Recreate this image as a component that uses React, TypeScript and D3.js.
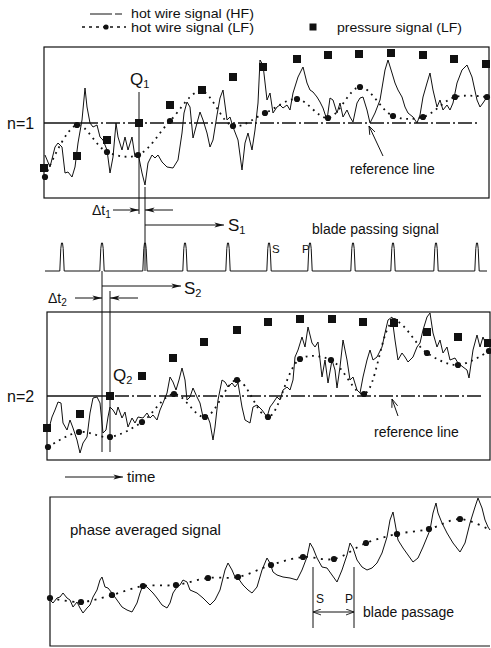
import React from 'react';
import * as d3 from 'd3';

type Pt = [number, number];

// ---------- data (time in samples, signal in arbitrary units) ----------
const P1_HF: Pt[] = [[1,43],[6,31],[11,51],[14,55],[18,51],[21,25],[24,26],[28,21],[31,31],[34,55],[38,78],[41,110],[43,91],[46,75],[49,71],[53,73],[56,61],[59,58],[63,48],[66,25],[69,41],[72,75],[74,61],[78,48],[81,61],[84,48],[88,61],[91,41],[94,45],[98,25],[101,13],[104,35],[108,43],[111,40],[114,43],[118,36],[123,31],[129,30],[134,38],[138,65],[140,85],[143,96],[146,91],[149,60],[153,75],[156,86],[159,78],[163,65],[166,51],[169,58],[173,83],[176,100],[179,108],[183,78],[186,81],[189,71],[194,58],[198,28],[201,55],[204,65],[208,48],[211,68],[214,95],[216,138],[219,133],[223,98],[226,105],[229,85],[233,91],[236,93],[239,90],[243,93],[246,88],[249,105],[254,121],[259,131],[263,115],[266,108],[269,106],[273,101],[276,96],[279,90],[283,78],[286,100],[289,98],[293,85],[296,95],[299,81],[303,88],[306,81],[309,76],[313,95],[316,100],[319,101],[323,88],[326,75],[331,85],[336,98],[341,128],[344,138],[348,125],[351,115],[354,108],[358,101],[361,91],[364,85],[369,81],[373,75],[376,83],[379,101],[383,115],[386,125],[389,108],[393,91],[396,98],[399,88],[403,93],[406,88],[409,95],[413,115],[418,128],[423,133],[428,121],[433,98],[436,91],[439,95],[443,101],[445,103]];
const P1_LF: Pt[] = [[1,21],[33,73],[63,46],[94,43],[126,77],[157,107],[189,72],[221,85],[253,99],[284,80],[316,111],[349,82],[379,81],[411,101],[443,101]];
const P1_PRESS: Pt[] = [[0,30],[33,42],[63,58],[95,75],[126,93],[158,108],[189,121],[219,131],[253,139],[284,143],[315,144],[347,145],[379,143],[410,139],[442,134]];
const REF1 = 75;

const P2_HF: Pt[] = [[0,32],[1,28],[5,43],[8,50],[11,58],[14,57],[16,37],[20,30],[23,40],[26,32],[30,20],[33,7],[36,17],[40,23],[43,47],[46,62],[50,63],[53,57],[56,27],[59,30],[61,43],[63,53],[66,50],[69,45],[71,53],[75,42],[78,48],[81,33],[85,42],[88,37],[91,43],[96,42],[100,47],[103,42],[106,45],[110,40],[113,50],[116,57],[120,67],[123,83],[126,78],[129,70],[132,80],[135,92],[138,80],[140,60],[143,63],[146,72],[150,63],[153,57],[156,43],[160,45],[163,37],[166,20],[168,33],[171,60],[175,80],[178,78],[181,73],[185,77],[188,73],[191,77],[195,53],[198,40],[203,37],[206,53],[210,55],[215,50],[220,43],[223,53],[226,57],[230,63],[233,60],[236,70],[240,73],[243,70],[246,80],[248,103],[251,110],[255,123],[258,113],[261,133],[265,117],[268,113],[271,118],[275,83],[278,100],[281,77],[285,100],[288,90],[290,72],[293,93],[296,120],[300,100],[303,80],[306,83],[310,70],[313,67],[316,83],[320,100],[323,110],[326,100],[330,103],[335,113],[338,127],[341,140],[345,143],[348,120],[351,100],[355,107],[358,103],[361,98],[366,103],[370,113],[373,117],[376,130],[380,143],[383,147],[386,127],[390,113],[393,120],[396,107],[400,113],[403,100],[408,102],[411,97],[416,93],[420,90],[422,82],[426,110],[430,125],[433,113],[436,123],[440,113],[443,117]];
const P2_LF: Pt[] = [[1,13],[32,28],[63,23],[95,38],[127,66],[158,43],[190,80],[221,43],[253,101],[284,100],[317,66],[347,139],[380,107],[411,95],[442,109]];
const P2_PRESS: Pt[] = [[0,32],[33,46],[63,64],[95,84],[126,102],[157,118],[190,130],[221,138],[253,141],[285,141],[316,138],[347,137],[380,128],[411,123],[441,117]];
const REF2 = 64;

const P3_HF: Pt[] = [[0,46],[3,43],[7,48],[10,49],[13,53],[17,48],[20,46],[23,39],[27,44],[30,38],[33,33],[37,38],[40,41],[43,49],[47,56],[50,66],[52,69],[55,59],[58,58],[62,53],[67,46],[72,39],[77,36],[82,34],[87,43],[90,53],[93,61],[97,59],[100,56],[103,53],[107,48],[112,41],[117,38],[120,43],[123,53],[127,59],[130,61],[133,66],[137,64],[140,56],[147,53],[153,48],[160,41],[165,46],[170,56],[175,76],[178,83],[182,76],[185,69],[188,68],[193,61],[198,56],[202,53],[207,59],[212,76],[217,88],[220,83],[223,74],[227,71],[233,69],[240,68],[247,66],[252,76],[257,89],[260,103],[263,98],[267,88],[272,79],[277,78],[282,71],[287,64],[292,76],[297,91],[300,103],[303,98],[307,86],[312,79],[317,76],[322,78],[327,83],[332,93],[337,109],[340,126],[343,134],[345,123],[348,106],[353,98],[358,91],[363,84],[368,88],[373,99],[380,116],[383,133],[386,143],[388,133],[392,123],[397,113],[403,103],[410,94],[415,103],[420,123],[425,139],[428,148],[432,138],[435,126],[438,119],[440,116]];
const P3_LF: Pt[] = [[0,48],[31,44],[62,51],[93,60],[126,61],[158,68],[188,69],[221,81],[253,89],[284,87],[316,103],[347,112],[379,117],[410,127],[440,116]];
const P3_PASSAGE: number[] = [263, 304];

const BLADE_T: number[] = [18, 58, 101, 141, 184, 225, 266, 309, 349, 392, 433];
const Q1_T = 95;
const Q2_T = 63;

// ---------- scales ----------
const x1 = d3.scaleLinear().domain([0, 445]).range([44, 489]);
const y1 = d3.scaleLinear().domain([0, 151]).range([198, 47]);
const x2 = d3.scaleLinear().domain([0, 443]).range([47, 490]);
const y2 = d3.scaleLinear().domain([0, 148]).range([460, 312]);
const x3 = d3.scaleLinear().domain([0, 440]).range([50, 490]);
const y3 = d3.scaleLinear().domain([0, 149]).range([646, 497]);
const xb = d3.scaleLinear().domain([0, 445]).range([44, 489]);
const yb = d3.scaleLinear().domain([0, 1]).range([271, 243]);

const FONT = "'Liberation Sans', Arial, Helvetica, sans-serif";
const INK = '#111';

type Scale = d3.ScaleLinear<number, number>;

function Panel({ hf, lf, pr, xs, ys, refLevel, refSolidEnd, refEnd, box }: {
  hf: Pt[]; lf: Pt[]; pr?: Pt[]; xs: Scale; ys: Scale; refLevel?: number;
  refSolidEnd?: number; refEnd?: number; box: 'full' | 'open';
}) {
  const hfLine = d3.line<Pt>().x(d => xs(d[0])).y(d => ys(d[1]));
  const lfLine = d3.line<Pt>().x(d => xs(d[0])).y(d => ys(d[1])).curve(d3.curveCatmullRom.alpha(0.5));
  const [xa, xb2] = xs.range();
  const [yb0, yt] = ys.range();
  const dots = pr ? lf : lf.slice(0, lf.length - 1);
  return (
    <g>
      {box === 'full' ? (
        <rect x={xa} y={yt} width={xb2 - xa} height={yb0 - yt} fill="none" stroke={INK} strokeWidth={1.2} />
      ) : (
        <path d={`M${xb2 + 1},${yt}H${xa}V${yb0}H${xb2}`} fill="none" stroke={INK} strokeWidth={1.2} />
      )}
      {refLevel !== undefined && (
        <g stroke={INK} strokeWidth={1.3}>
          <line x1={xa} x2={xs(refSolidEnd!)} y1={ys(refLevel)} y2={ys(refLevel)} />
          <line x1={xs(refSolidEnd!)} x2={xs(refEnd!)} y1={ys(refLevel)} y2={ys(refLevel)} strokeDasharray="14 3 2 3" />
        </g>
      )}
      <path d={hfLine(hf) || ''} fill="none" stroke={INK} strokeWidth={1} strokeLinejoin="round" />
      <path d={lfLine(lf) || ''} fill="none" stroke={INK} strokeWidth={1.8} strokeDasharray={pr ? '1.8 4.6' : '2 5.5'} />
      {pr && pr.map((d, i) => (
        <rect key={'s' + i} x={xs(d[0]) - 4} y={ys(d[1]) - 4} width={8} height={8} fill={INK} />
      ))}
      {dots.map((d, i) => (
        <circle key={'c' + i} cx={xs(d[0])} cy={ys(d[1])} r={3.1} fill={INK} />
      ))}
    </g>
  );
}

export default function App() {
  // blade passing signal trace
  const bladePts: Pt[] = [[1, 0]];
  BLADE_T.forEach(t => {
    bladePts.push([t - 2.2, 0], [t - 1.2, 0.8], [t - 0.5, 1], [t + 0.5, 1], [t + 1.2, 0.8], [t + 2.2, 0]);
  });
  bladePts.push([443, 0]);
  const bladeLine = d3.line<Pt>().x(d => xb(d[0])).y(d => yb(d[1]));

  const q1x = x1(Q1_T);
  const p3x = xb(BLADE_T[2]);
  const p2x = xb(BLADE_T[1]);
  const q2x = x2(Q2_T);
  const sx = x3(P3_PASSAGE[0]);
  const px = x3(P3_PASSAGE[1]);

  return (
    <svg width={491} height={648} viewBox="0 0 491 648"
      style={{ position: 'absolute', left: 0, top: 0, background: '#fff' }}
      fontFamily={FONT} fill={INK}>
      <defs>
        <marker id="arr" viewBox="0 0 10 6" refX="9.6" refY="3" markerWidth="10" markerHeight="6"
          markerUnits="userSpaceOnUse" orient="auto-start-reverse">
          <path d="M0,0.4 L10,3 L0,5.6 L2.5,3 Z" fill={INK} />
        </marker>
        <marker id="arrOpen" viewBox="0 0 10 8" refX="9.5" refY="4" markerWidth="9" markerHeight="7"
          markerUnits="userSpaceOnUse" orient="auto-start-reverse">
          <path d="M0,0.5 L9.5,4 L0,7.5" fill="none" stroke={INK} strokeWidth={1} />
        </marker>
      </defs>

      {/* legend */}
      <g stroke={INK}>
        <line x1={90} x2={112} y1={14} y2={14} strokeWidth={1} />
        <line x1={115} x2={122} y1={14} y2={14} strokeWidth={1} />
        <line x1={82} x2={126} y1={27} y2={27} strokeWidth={1.6} strokeDasharray="3 4" />
      </g>
      <circle cx={106} cy={27} r={2.6} />
      <rect x={309.5} y={23.5} width={7} height={7} />
      <text x={131} y={18} fontSize={13.5} textLength={123} lengthAdjust="spacingAndGlyphs">hot wire signal (HF)</text>
      <text x={131} y={31.5} fontSize={13.5} textLength={123} lengthAdjust="spacingAndGlyphs">hot wire signal (LF)</text>
      <text x={337} y={31.5} fontSize={13.5} textLength={125} lengthAdjust="spacingAndGlyphs">pressure signal (LF)</text>

      {/* panel 1 */}
      <Panel hf={P1_HF} lf={P1_LF} pr={P1_PRESS} xs={x1} ys={y1} refLevel={REF1} refSolidEnd={40} refEnd={436} box="full" />
      <text x={7} y={129} fontSize={16}>n=1</text>
      <text x={130} y={85} fontSize={17}>Q<tspan fontSize={11} dy={3}>1</tspan></text>
      <line x1={q1x} x2={q1x} y1={92} y2={214} stroke={INK} strokeWidth={1} />
      <text x={350} y={174} fontSize={14}>reference line</text>
      <line x1={383} y1={156} x2={369} y2={126} stroke={INK} strokeWidth={1} markerEnd="url(#arrOpen)" />

      {/* Δt1 / S1 */}
      <text x={92} y={215} fontSize={14}>Δt<tspan fontSize={10} dy={3}>1</tspan></text>
      <line x1={113} x2={q1x} y1={210} y2={210} stroke={INK} strokeWidth={1} markerEnd="url(#arr)" />
      <line x1={173} x2={p3x} y1={210} y2={210} stroke={INK} strokeWidth={1} markerEnd="url(#arr)" />
      <line x1={p3x} x2={p3x} y1={187} y2={271} stroke={INK} strokeWidth={1} />
      <line x1={p3x} x2={224} y1={225} y2={225} stroke={INK} strokeWidth={1} markerEnd="url(#arr)" />
      <text x={228} y={231} fontSize={17}>S<tspan fontSize={11} dy={3}>1</tspan></text>

      {/* blade passing signal */}
      <path d={bladeLine(bladePts) || ''} fill="none" stroke={INK} strokeWidth={1} />
      <text x={312} y={234} fontSize={14}>blade passing signal</text>
      <text x={272} y={253} fontSize={11.5}>S</text>
      <text x={302} y={253} fontSize={11.5}>P</text>

      {/* Δt2 / S2 */}
      <line x1={p2x} x2={p2x} y1={271} y2={452} stroke={INK} strokeWidth={1} />
      <line x1={p2x} x2={181} y1={286} y2={286} stroke={INK} strokeWidth={1} markerEnd="url(#arr)" />
      <text x={184} y={294} fontSize={17}>S<tspan fontSize={11} dy={3}>2</tspan></text>
      <text x={48} y={303} fontSize={14}>Δt<tspan fontSize={10} dy={3}>2</tspan></text>
      <line x1={75} x2={p2x} y1={298} y2={298} stroke={INK} strokeWidth={1} markerEnd="url(#arr)" />
      <line x1={138} x2={q2x} y1={298} y2={298} stroke={INK} strokeWidth={1} markerEnd="url(#arr)" />
      <line x1={q2x} x2={q2x} y1={291} y2={452} stroke={INK} strokeWidth={1} />

      {/* panel 2 */}
      <Panel hf={P2_HF} lf={P2_LF} pr={P2_PRESS} xs={x2} ys={y2} refLevel={REF2} refSolidEnd={46} refEnd={436} box="full" />
      <text x={7} y={402} fontSize={16}>n=2</text>
      <text x={113} y={381} fontSize={17}>Q<tspan fontSize={11} dy={3}>2</tspan></text>
      <text x={374} y={437} fontSize={14}>reference line</text>
      <line x1={398} y1={416} x2={392} y2={399} stroke={INK} strokeWidth={1} markerEnd="url(#arrOpen)" />

      {/* time arrow */}
      <line x1={65} x2={123} y1={477} y2={477} stroke={INK} strokeWidth={1} markerEnd="url(#arr)" />
      <text x={127} y={482} fontSize={15}>time</text>

      {/* panel 3 */}
      <Panel hf={P3_HF} lf={P3_LF} xs={x3} ys={y3} box="open" />
      <text x={70} y={535} fontSize={15}>phase averaged signal</text>
      <line x1={sx} x2={sx} y1={567} y2={628} stroke={INK} strokeWidth={1} />
      <line x1={px} x2={px} y1={567} y2={628} stroke={INK} strokeWidth={1} />
      <text x={316} y={603} fontSize={12}>S</text>
      <text x={345} y={603} fontSize={12}>P</text>
      <line x1={sx} x2={px} y1={612} y2={612} stroke={INK} strokeWidth={1}
        markerStart="url(#arrOpen)" markerEnd="url(#arrOpen)" />
      <text x={363} y={617} fontSize={14}>blade passage</text>
    </svg>
  );
}
